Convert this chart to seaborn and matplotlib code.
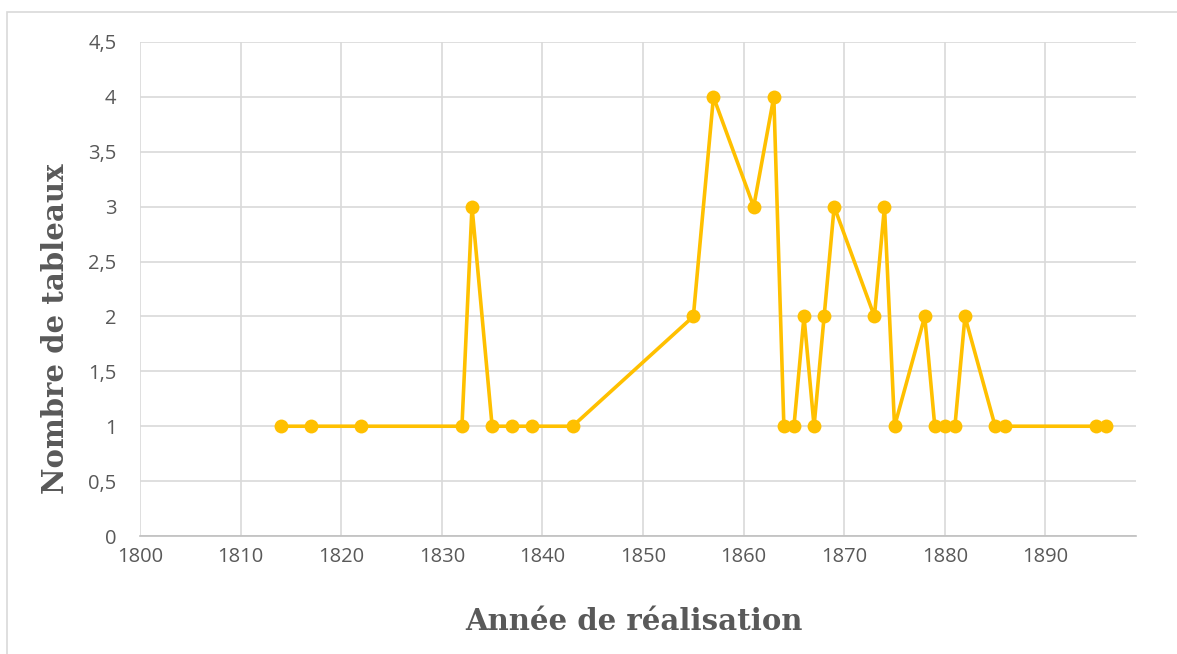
import matplotlib
matplotlib.use("Agg")
import matplotlib.pyplot as plt
import seaborn as sns
import pandas as pd
from matplotlib.patches import Rectangle
from matplotlib.ticker import FuncFormatter, MultipleLocator

years = [1814, 1817, 1822, 1832, 1833, 1835, 1837, 1839, 1843, 1855, 1857, 1861,
         1863, 1864, 1865, 1866, 1867, 1868, 1869, 1873, 1874, 1875, 1878, 1879,
         1880, 1881, 1882, 1885, 1886, 1895, 1896]
counts = [1, 1, 1, 1, 3, 1, 1, 1, 1, 2, 4, 3,
          4, 1, 1, 2, 1, 2, 3, 2, 3, 1, 2, 1,
          1, 1, 2, 1, 1, 1, 1]
x_label = "Année de réalisation"
y_label = "Nombre de tableaux"

df = pd.DataFrame({"annee": years, "n": counts})

sns.set_theme(style="white")
plt.rcParams['font.family'] = ['Open Sans', 'DejaVu Sans']

fig = plt.figure(figsize=(11.77, 6.54), dpi=100)
ax = fig.add_axes([140/1177, 1-536/654, 996/1177, 494/654])

sns.lineplot(data=df, x="annee", y="n", ax=ax, color="#FFC000", linewidth=2.6,
             marker="o", markersize=10, markeredgewidth=0, markeredgecolor="#FFC000")

ax.set_xlim(1800, 1899)
ax.set_ylim(0, 4.5)
ax.yaxis.set_major_locator(MultipleLocator(0.5))
ax.set_xticks(range(1800, 1891, 10))
fmt = FuncFormatter(lambda v, p: (f"{v:g}").replace(".", ","))
ax.yaxis.set_major_formatter(fmt)
ax.grid(True, color="#D9D9D9", linewidth=1.2)
ax.set_axisbelow(True)
for s in ["top", "right", "left"]:
    ax.spines[s].set_visible(False)
ax.spines["bottom"].set_color("#BFBFBF")
ax.spines["bottom"].set_linewidth(1.2)
ax.tick_params(axis="both", colors="#595959", labelsize=14.5, length=0)
ax.tick_params(axis="y", pad=17)
ax.tick_params(axis="x", pad=8)

ax.set_xlabel(x_label, family=["DejaVu Serif"], fontweight="bold", fontsize=21,
              color="#595959")
ax.xaxis.set_label_coords((634 - 140) / 996, -(621 - 536) / 494)
ax.xaxis.label.set_verticalalignment("center")
ax.set_ylabel(y_label, family=["DejaVu Serif"], fontweight="bold", fontsize=21,
              color="#595959")
ax.yaxis.set_label_coords((56 - 140) / 996, (536 - 329) / 494)
ax.yaxis.label.set_verticalalignment("center")

fig.patches.append(Rectangle((7/1177, -0.01), 1.2, 1-12/654+0.01, transform=fig.transFigure,
                             fill=False, edgecolor="#D9D9D9", linewidth=1.2))

fig.savefig("out.png", dpi=100)
